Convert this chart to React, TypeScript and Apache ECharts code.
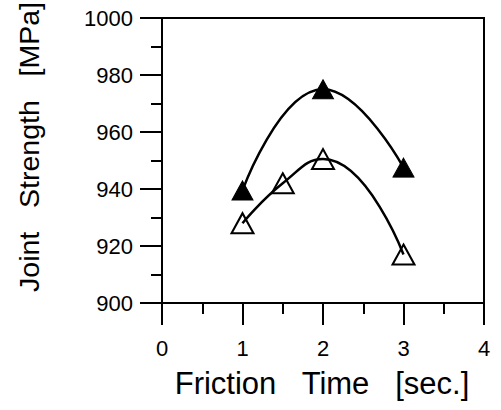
import React, { useEffect, useRef } from "react";
import * as echarts from "echarts";

// Friction time [sec.] and joint strength [MPa]
const timeFilled = [1, 2, 3];
const strengthFilled = [939.5, 975, 947.5];
const timeOpen = [1, 1.5, 2, 3];
const strengthOpen = [928, 942, 950.5, 917];

const xMin = 0;
const xMax = 4;
const xStep = 1;
const yMin = 900;
const yMax = 1000;
const yStep = 20;

const xTitle = "Friction   Time   [sec.]";
const yTitle = "Joint   Strength   [MPa]";

const FONT = "'Liberation Sans', Arial, Helvetica, sans-serif";

export default function App() {
  const ref = useRef<HTMLDivElement>(null);

  useEffect(() => {
    if (!ref.current) return;
    const chart = echarts.init(ref.current, null, { renderer: "svg" });
    const filled = timeFilled.map((t, i) => [t, strengthFilled[i]]);
    const open = timeOpen.map((t, i) => [t, strengthOpen[i]]);

    const axisCommon = {
      axisLine: { show: true, onZero: false, lineStyle: { color: "#000", width: 2 } },
      axisTick: { show: true, inside: false, length: 22, lineStyle: { color: "#000", width: 2 } },
      minorTick: { show: true, splitNumber: 2, length: 11, lineStyle: { color: "#000", width: 2 } },
      splitLine: { show: false },
      minorSplitLine: { show: false },
    };

    chart.setOption({
      animation: false,
      backgroundColor: "#fff",
      grid: {
        left: 162,
        right: 17,
        top: 18,
        bottom: 107,
        show: true,
        borderColor: "#000",
        borderWidth: 2,
        backgroundColor: "transparent",
      },
      xAxis: {
        type: "value",
        min: xMin,
        max: xMax,
        interval: xStep,
        ...axisCommon,
        axisLabel: {
          show: true,
          margin: 34,
          color: "#000",
          fontSize: 22,
          fontFamily: FONT,
          showMinLabel: true,
          showMaxLabel: true,
          formatter: (v: number) => String(v),
        },
      },
      yAxis: {
        type: "value",
        min: yMin,
        max: yMax,
        interval: yStep,
        ...axisCommon,
        axisLabel: {
          show: true,
          margin: 29,
          color: "#000",
          fontSize: 22,
          fontFamily: FONT,
          showMinLabel: true,
          showMaxLabel: true,
          formatter: (v: number) => String(v),
        },
      },
      graphic: [
        {
          type: "text",
          x: 322,
          y: 383,
          style: {
            text: xTitle,
            fontSize: 31,
            fontFamily: FONT,
            fill: "#000",
            align: "center",
            verticalAlign: "middle",
            textAlign: "center",
            textVerticalAlign: "middle",
          },
        },
        {
          type: "text",
          x: 29,
          y: 147,
          rotation: Math.PI / 2,
          style: {
            text: yTitle,
            fontSize: 28.5,
            fontFamily: FONT,
            fill: "#000",
            align: "center",
            verticalAlign: "middle",
            textAlign: "center",
            textVerticalAlign: "middle",
          },
        },
      ],
      series: [
        {
          type: "line",
          data: filled,
          smooth: true,
          symbol: "none",
          lineStyle: { color: "#000", width: 2.5, opacity: 1 },
          z: 2,
        },
        {
          type: "line",
          data: open,
          smooth: true,
          symbol: "none",
          lineStyle: { color: "#000", width: 2.5, opacity: 1 },
          z: 2,
        },
        {
          type: "scatter",
          data: filled,
          symbol: "triangle",
          symbolSize: [21, 19],
          itemStyle: { color: "#000", borderColor: "#000", borderWidth: 1, opacity: 1 },
          z: 3,
        },
        {
          type: "scatter",
          data: open,
          symbol: "triangle",
          symbolSize: [22, 20],
          itemStyle: { color: "rgba(0,0,0,0)", borderColor: "#000", borderWidth: 2, opacity: 1 },
          z: 3,
        },
      ],
    });

    return () => chart.dispose();
  }, []);

  return (
    <div
      ref={ref}
      style={{ position: "fixed", left: 0, top: 0, width: 501, height: 410, background: "#fff" }}
    />
  );
}
